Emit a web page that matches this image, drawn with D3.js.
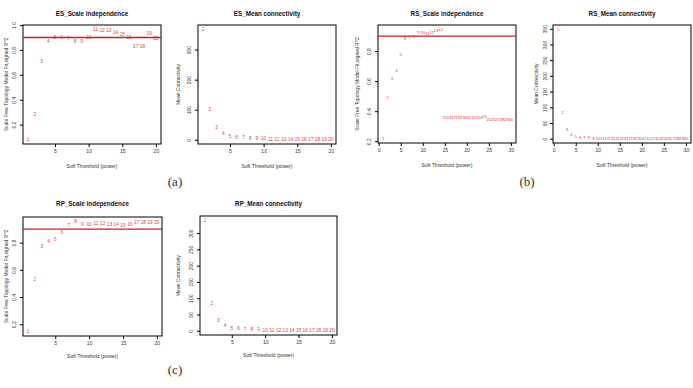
<!DOCTYPE html>
<html><head><meta charset="utf-8">
<script src="https://cdn.jsdelivr.net/npm/d3@7/dist/d3.min.js"></script>
<style>
body{margin:0;background:#fff;}
svg{display:block;font-family:"Liberation Sans",Arial,sans-serif;}
</style></head>
<body>
<script>
// ---------- data ----------
const powersES = [1,2,3,4,5,6,7,8,9,10,11,12,13,14,15,16,17,18,19,20];
const fitES = [0.08,0.28,0.71,0.865,0.897,0.897,0.892,0.865,0.868,0.897,0.965,0.959,0.957,0.937,0.924,0.897,0.824,0.824,0.932,0.894];
const kES = [367,100,40,20,12,8,6,4.5,3.5,2.8,2.2,1.8,1.5,1.3,1.1,1.0,0.9,0.8,0.7,0.6];

const powersRS = [1,2,3,4,5,6,7,8,9,10,11,12,13,14,15,16,17,18,19,20,21,22,23,24,25,26,27,28,29,30];
const fitRS = [0.217,0.494,0.615,0.672,0.776,0.883,0.888,0.896,0.923,0.927,0.92,0.925,0.935,0.945,
  0.355,0.355,0.356,0.356,0.357,0.357,0.357,0.357,0.358,0.362,0.345,0.344,0.344,0.344,0.344,0.344];
const kRS = [348,85,29,14,8,5,3.5,2.5,2,1.6,1.3,1.1,1,0.9,0.8,0.7,0.65,0.6,0.55,0.5,0.48,0.45,0.42,0.4,0.38,0.36,0.34,0.32,0.31,0.3];

const powersRP = [1,2,3,4,5,6,7,8,9,10,11,12,13,14,15,16,17,18,19,20];
const fitRP = [0.146,0.529,0.768,0.807,0.822,0.873,0.929,0.956,0.936,0.936,0.94,0.938,0.933,0.936,0.926,0.931,0.946,0.948,0.95,0.948];
const kRP = [339,85,33,15,7,6,4.5,3.5,2.8,2.2,1.8,1.5,1.3,1.1,1.0,0.9,0.8,0.7,0.6,0.5];

const xTicks20 = [5,10,15,20];
const xTicks30 = [0,5,10,15,20,25,30];
const yTicksES = ["0.2","0.4","0.6","0.8","1.0"];
const yTicksRS = ["0.2","0.4","0.6","0.8"];
const yTicksRP = ["0.2","0.4","0.6","0.8"];
const yTicksKES = [0,100,200,300];
const yTicksKRS = [0,50,100,150,200,250,300,350];
const yTicksKRP = [0,50,100,150,200,250,300];
const cutoff = 0.9;
const captions = ["(a)","(b)","(c)"];

// ---------- drawing ----------
const W = 693, H = 388;
const svg = d3.select("body").append("svg").attr("width", W).attr("height", H);

function rExt(vals){ const lo=d3.min(vals), hi=d3.max(vals), r=hi-lo; return [lo-0.04*r, hi+0.04*r]; }

function panel(o){
  const g = svg.append("g");
  const x = d3.scaleLinear().domain(rExt(o.xs)).range([o.x0, o.x1]);
  const y = d3.scaleLinear().domain(rExt(o.ys)).range([o.y1, o.y0]);
  g.append("rect").attr("x",o.x0).attr("y",o.y0).attr("width",o.x1-o.x0).attr("height",o.y1-o.y0)
    .attr("fill","none").attr("stroke","#000").attr("stroke-width",1);
  const xa = g.append("g").attr("transform",`translate(0,${o.y1})`)
    .call(d3.axisBottom(x).tickValues(o.xticks).tickSize(3).tickPadding(2.5).tickFormat(d3.format("d")));
  xa.select(".domain").remove();
  xa.selectAll("text").attr("font-size",5).attr("fill","#333").attr("font-family","Liberation Sans, Arial, sans-serif");
  xa.selectAll("line").attr("stroke","#000");
  const ya = g.append("g").attr("transform",`translate(${o.x0},0)`)
    .call(d3.axisLeft(y).tickValues(o.yticks.map(Number)).tickSize(3).tickFormat((d,i)=>o.yticks[i]));
  ya.select(".domain").remove();
  ya.selectAll("line").attr("stroke","#000");
  ya.selectAll("text").attr("font-size",5).attr("fill","#333").attr("font-family","Liberation Sans, Arial, sans-serif")
    .attr("text-anchor","middle").attr("dy",null).attr("x",null)
    .attr("transform",`translate(-${o.tickOff},0) rotate(-90)`).attr("dominant-baseline","central");
  g.append("text").attr("x",(o.x0+o.x1)/2).attr("y",o.titleY).attr("text-anchor","middle")
    .attr("font-size",6.3).attr("font-weight","bold").attr("fill","#111").text(o.title);
  g.append("text").attr("x",(o.x0+o.x1)/2).attr("y",o.y1+o.xlabOff).attr("text-anchor","middle")
    .attr("font-size",5).attr("fill","#333").text("Soft Threshold (power)");
  g.append("text").attr("transform",`translate(${o.x0-o.ylabOff},${(o.y0+o.y1)/2}) rotate(-90)`)
    .attr("text-anchor","middle").attr("dominant-baseline","central")
    .attr("font-size",5).attr("fill","#333").text(o.ylab);
  if (o.hline !== undefined){
    g.append("line").attr("x1",o.x0).attr("x2",o.x1).attr("y1",y(o.hline)).attr("y2",y(o.hline))
      .attr("stroke","#d01c1c").attr("stroke-width",1.3);
  }
  g.selectAll("text.pt").data(o.xs).join("text").attr("class","pt")
    .attr("x",(d)=>x(d)).attr("y",(d,i)=>y(o.ys[i])).attr("text-anchor","middle")
    .attr("dominant-baseline","central").attr("font-size",o.ptSize||4.7).attr("fill","#e8373f")
    .text((d)=>d);
}

const ylabFit = "Scale Free Topology Model Fit,signed R^2";
const ylabK = "Mean Connectivity";

panel({x0:23,x1:161,y0:25,y1:144,xs:powersES,ys:fitES,xticks:xTicks20,yticks:yTicksES,
  title:"ES_Scale independence",titleY:16,ylab:ylabFit,hline:cutoff,tickOff:9,ylabOff:17,xlabOff:24});
panel({x0:198,x1:336,y0:25,y1:144,xs:powersES,ys:kES,xticks:xTicks20,yticks:yTicksKES.map(String),
  title:"ES_Mean connectivity",titleY:16,ylab:ylabK,tickOff:9,ylabOff:20,xlabOff:24});
panel({x0:378,x1:516,y0:25,y1:143,xs:powersRS,ys:fitRS,xticks:xTicks30,yticks:yTicksRS,
  title:"RS_Scale independence",titleY:16,ylab:ylabFit,hline:cutoff,tickOff:9,ylabOff:21,xlabOff:24,ptSize:4.3});
panel({x0:553,x1:691,y0:25,y1:143,xs:powersRS,ys:kRS,xticks:xTicks30,yticks:yTicksKRS.map(String),
  title:"RS_Mean connectivity",titleY:16,ylab:ylabK,tickOff:8,ylabOff:17,xlabOff:24,ptSize:4.3});
panel({x0:23,x1:162,y0:217,y1:336,xs:powersRP,ys:fitRP,xticks:xTicks20,yticks:yTicksRP,
  title:"RP_Scale independence",titleY:206,ylab:ylabFit,hline:cutoff,tickOff:9,ylabOff:17,xlabOff:22});
panel({x0:200,x1:337,y0:216,y1:335,xs:powersRP,ys:kRP,xticks:xTicks20,yticks:yTicksKRP.map(String),
  title:"RP_Mean connectivity",titleY:206,ylab:ylabK,tickOff:9,ylabOff:22,xlabOff:22});

const capPos = [[175,181],[527,181],[175,369]];
svg.selectAll("text.cap").data(captions).join("text").attr("class","cap")
  .attr("x",(d,i)=>capPos[i][0]).attr("y",(d,i)=>capPos[i][1]).attr("text-anchor","middle")
  .attr("dominant-baseline","central").attr("font-family","Liberation Serif, Times New Roman, serif")
  .attr("font-size",13).attr("fill","#333").text(d=>d);
</script>
</body></html>
